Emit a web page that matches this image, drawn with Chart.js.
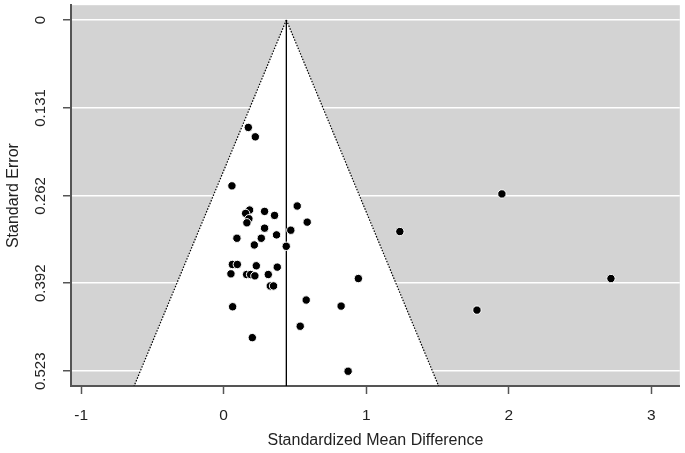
<!DOCTYPE html>
<html>
<head>
<meta charset="utf-8">
<script src="https://cdn.jsdelivr.net/npm/chart.js@4/dist/chart.umd.min.js"></script>
<style>
  html, body { margin: 0; padding: 0; background: #fff; }
  #wrap { width: 685px; height: 453px; }
</style>
</head>
<body>
<div id="wrap"><canvas id="myChart"></canvas></div>
<script>
// study effects (standardized mean difference) and their standard errors
var smd = [0.173, 0.222, 0.058, 1.952, 0.516, 0.182, 0.287, 0.154, 0.357, 0.177,
           0.586, 0.163, 0.287, 0.471, 1.236, 0.371, 0.093, 0.264, 0.215, 0.439,
           0.061, 0.096, 0.229, 0.376, 0.051, 0.161, 0.189, 0.219, 0.313, 0.945,
           2.717, 0.327, 0.350, 0.579, 0.063, 0.824, 1.777, 0.537, 0.201, 0.873];
var se  = [0.160, 0.174, 0.247, 0.259, 0.277, 0.283, 0.285, 0.288, 0.291, 0.296,
           0.301, 0.302, 0.310, 0.313, 0.315, 0.320, 0.325, 0.325, 0.335, 0.337,
           0.364, 0.364, 0.366, 0.368, 0.378, 0.379, 0.379, 0.381, 0.379, 0.385,
           0.385, 0.396, 0.396, 0.417, 0.427, 0.426, 0.432, 0.456, 0.473, 0.523];

// pooled estimate and funnel limits
var pooled = 0.44;
var zValue = 1.96;

// axis ticks
var xTicks = [-1, 0, 1, 2, 3];
var yTicks = [0, 0.131, 0.262, 0.392, 0.523];
var yTickLabels = ["0", "0.131", "0.262", "0.392", "0.523"];

var xMin = -1.071, xMax = 3.2;
var yMin = -0.022, yMax = 0.545;

var points = smd.map(function(v, i) { return { x: v, y: se[i] }; });

// gray panel, then the white funnel drawn through the scales
var funnelPlugin = {
	id: "funnel",
	beforeDraw: function(chart) {
		var a = chart.chartArea, c = chart.ctx;
		c.save();
		c.fillStyle = "#d3d3d3";
		c.fillRect(a.left, a.top, a.right - a.left, a.bottom - a.top);
		c.restore();
	},
	beforeDatasetsDraw: function(chart) {
		var a = chart.chartArea, c = chart.ctx;
		var xs = chart.scales.x, ys = chart.scales.y;
		c.save();
		c.beginPath();
		c.rect(a.left, a.top, a.right - a.left, a.bottom - a.top - 1);
		c.clip();
		c.fillStyle = "#ffffff";
		c.beginPath();
		c.moveTo(xs.getPixelForValue(pooled), ys.getPixelForValue(0));
		c.lineTo(xs.getPixelForValue(pooled - zValue * yMax), ys.getPixelForValue(yMax));
		c.lineTo(xs.getPixelForValue(pooled + zValue * yMax), ys.getPixelForValue(yMax));
		c.closePath();
		c.fill();
		c.restore();
	}
};

var ctx = document.getElementById("myChart").getContext("2d");
var chart = new Chart(ctx, {
	type: "scatter",
	data: {
		datasets: [{
			label: "Studies",
			data: points,
			backgroundColor: "#000",
			borderColor: "#fff",
			borderWidth: 1,
			pointRadius: 4.2,
			order: 0
		}, {
			label: "left limit",
			data: [{ x: pooled, y: 0 }, { x: pooled - zValue * yMax, y: yMax }],
			showLine: true,
			borderColor: "#000",
			borderWidth: 1.2,
			borderDash: [1.5, 1.5],
			pointRadius: 0,
			order: 1
		}, {
			label: "right limit",
			data: [{ x: pooled, y: 0 }, { x: pooled + zValue * yMax, y: yMax }],
			showLine: true,
			borderColor: "#000",
			borderWidth: 1.2,
			borderDash: [1.5, 1.5],
			pointRadius: 0,
			order: 1
		}, {
			label: "pooled",
			data: [{ x: pooled, y: 0 }, { x: pooled, y: yMax }],
			showLine: true,
			borderColor: "#000",
			borderWidth: 1,
			pointRadius: 0,
			order: 1
		}]
	},
	options: {
		responsive: true,
		maintainAspectRatio: false,
		animation: false,
		layout: { padding: { top: 3, right: 4, left: 0, bottom: 0 } },
		plugins: {
			legend: { display: false },
			tooltip: { enabled: false }
		},
		scales: {
			x: {
				type: "linear",
				min: xMin,
				max: xMax,
				afterBuildTicks: function(scale) {
					scale.ticks = xTicks.map(function(v) { return { value: v }; });
				},
				afterFit: function(scale) {
					scale.height = 67;
					scale.paddingLeft = 0;
					scale.paddingRight = 0;
				},
				ticks: {
					color: "#222",
					font: { family: "'Liberation Sans', Arial", size: 15.5 },
					padding: 12,
					maxRotation: 0,
					callback: function(v) { return String(v); }
				},
				grid: { drawOnChartArea: false, tickColor: "#555", tickLength: 8, tickWidth: 1.5 },
				border: { color: "#555", width: 2 },
				title: {
					display: true,
					text: "Standardized Mean Difference",
					color: "#222",
					font: { family: "'Liberation Sans', Arial", size: 16 },
					padding: { top: 0, bottom: 3 }
				}
			},
			y: {
				type: "linear",
				reverse: true,
				min: yMin,
				max: yMax,
				afterBuildTicks: function(scale) {
					scale.ticks = yTicks.map(function(v) { return { value: v }; });
				},
				afterFit: function(scale) {
					scale.width = 71;
					scale.paddingTop = 0;
					scale.paddingBottom = 0;
				},
				ticks: {
					color: "#222",
					font: { family: "'Liberation Sans', Arial", size: 15 },
					padding: 3,
					minRotation: 90,
					maxRotation: 90,
					crossAlign: "center",
					callback: function(v) {
						var i = yTicks.indexOf(v);
						return i >= 0 ? yTickLabels[i] : "";
					}
				},
				grid: { color: "#ffffff", lineWidth: 1.5, tickColor: "#555", tickLength: 8, tickWidth: 1.5 },
				border: { color: "#555", width: 2 },
				title: {
					display: true,
					text: "Standard Error",
					color: "#222",
					font: { family: "'Liberation Sans', Arial", size: 16 },
					padding: { top: 4, bottom: 0 }
				}
			}
		}
	},
	plugins: [funnelPlugin]
});
</script>
</body>
</html>
